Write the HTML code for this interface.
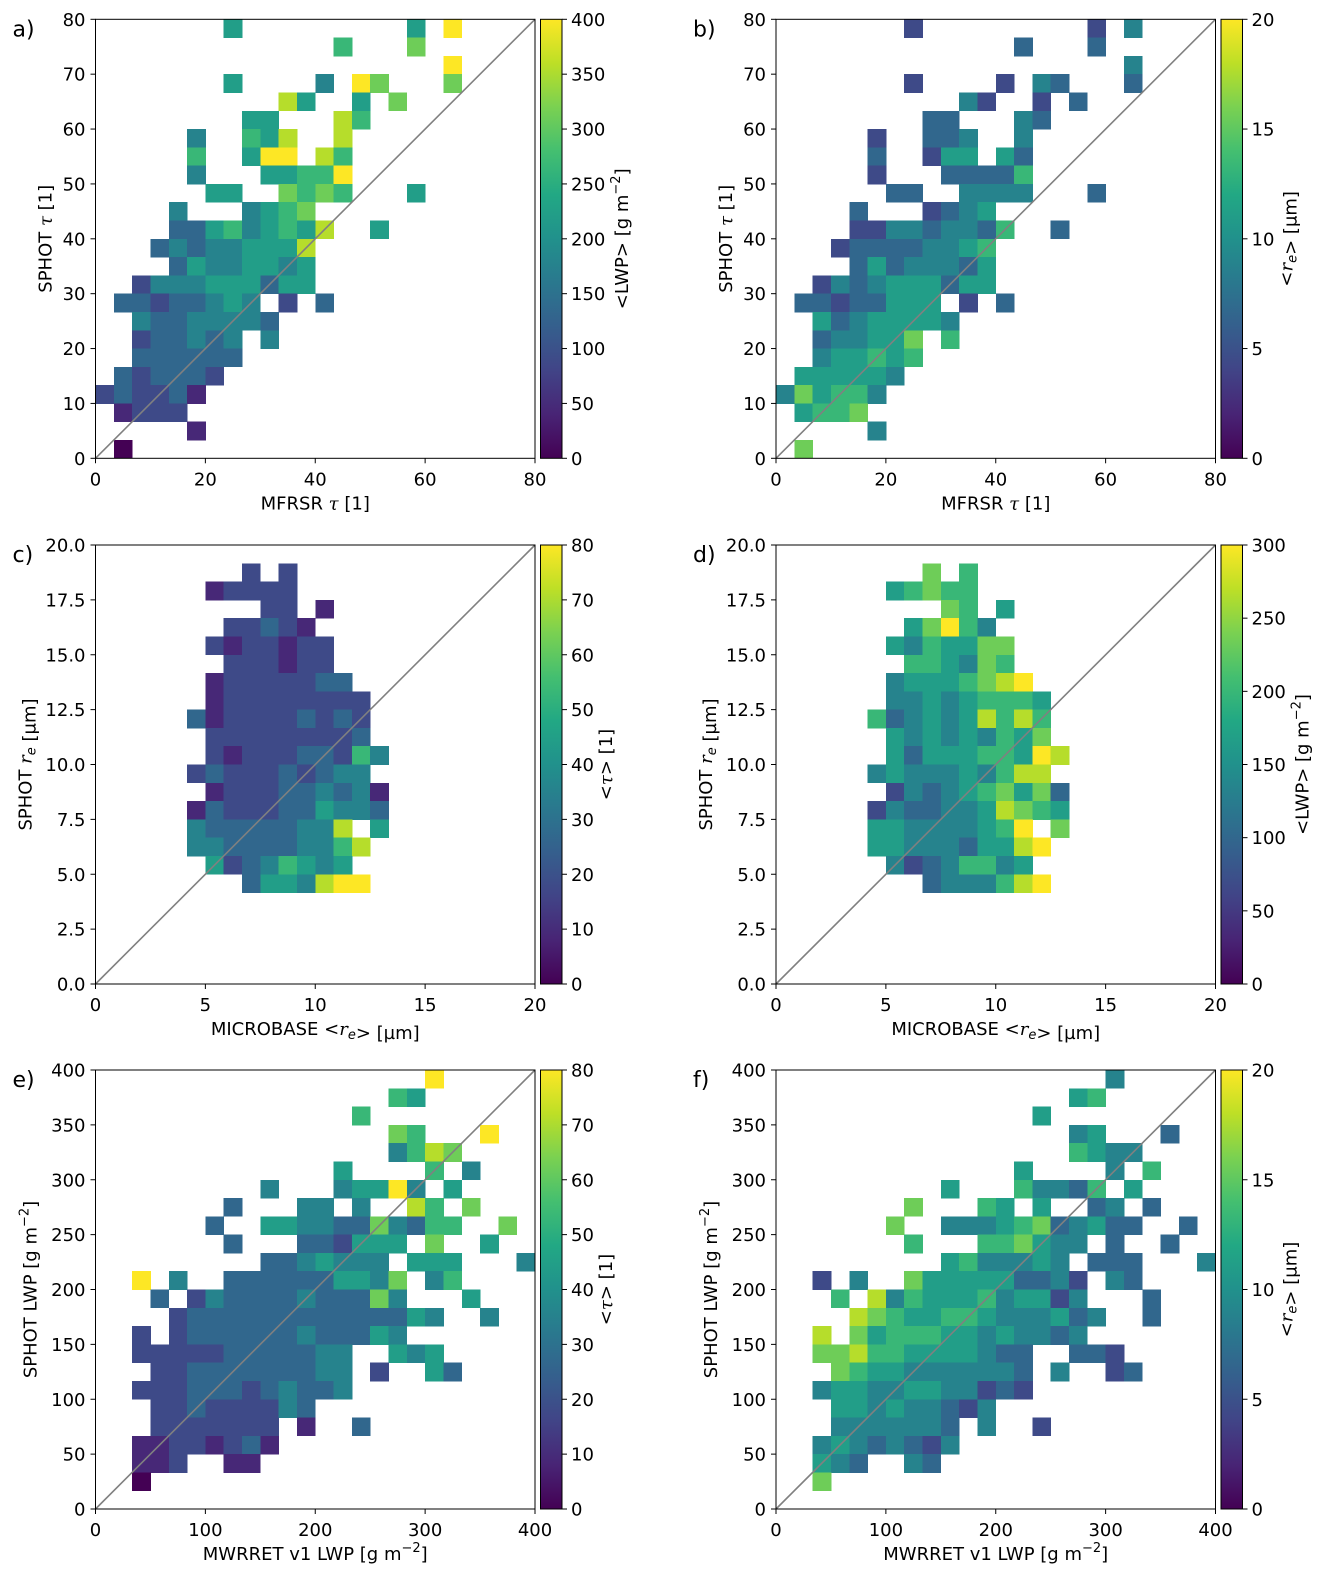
<!DOCTYPE html>
<html><head><meta charset="utf-8"><style>
html,body{margin:0;padding:0;background:#fff}
svg{display:block;font-family:"DejaVu Sans","Liberation Sans",sans-serif}
</style></head><body>
<svg id="fig" xmlns="http://www.w3.org/2000/svg" width="1330" height="1580" viewBox="0 0 1330 1580"></svg>
<script>
// ---- data: [row, startColumn, levels(0-9, '.'=empty)] ----
const aRows=[[23,7,"5.........5.9"],[22,13,"6...7"],[21,19,"9"],[20,7,"5....4.97...7"],[19,10,"85..5.7"],[18,8,"55...86"],[17,5,"4..658..8"],[16,5,"6..599.86"],[15,5,"4...55669"],[14,6,"55..7676...5"],[13,4,"4...4567"],[12,4,"335645658..5"],[11,3,"343445558"],[10,4,"35445545"],[9,2,"2444555355"],[8,1,"33233454.2.3"],[7,2,"43344443"],[6,2,"233434.4"],[5,2,"333333"],[4,1,"323332"],[3,0,"232231"],[2,1,"1222"],[1,5,"1"],[0,1,"0"]];
const bRows=[[23,7,"2.........2.4"],[22,13,"3...3"],[21,19,"4"],[20,7,"2....2.43...3"],[19,10,"42..2.3"],[18,8,"33...43"],[17,5,"2..334..4"],[16,5,"3..255.53"],[15,5,"2...33336"],[14,6,"33..4444...3"],[13,4,"3...2345"],[12,4,"224434436..3"],[11,3,"233334456"],[10,4,"35344435"],[9,2,"2434555355"],[8,1,"33233555.2.3"],[7,2,"53455554"],[6,2,"344557.6"],[5,2,"455656"],[4,1,"555554"],[3,0,"475664"],[2,1,"5667"],[1,5,"4"],[0,1,"7"]];
const cRows=[[22,8,"2.2"],[21,6,"12222"],[20,9,"22.1"],[19,7,"22321"],[18,6,"2122122"],[17,7,"222122"],[16,6,"12222233"],[15,6,"122222222"],[14,5,"3122223232"],[13,6,"222222223"],[12,6,"2122233264"],[11,5,"2322232344"],[10,6,"1222334341"],[9,5,"13222335443"],[8,5,"433333448.5"],[7,5,"4433334468"],[6,6,"52346545"],[5,8,"3554899"]];
const dRows=[[22,8,"7.6"],[21,6,"56766"],[20,9,"76.5"],[19,7,"57964"],[18,6,"5465577"],[17,7,"665476"],[16,6,"45556789"],[15,6,"445456665"],[14,5,"6345458686"],[13,6,"545454657"],[12,6,"5355566598"],[11,5,"4544454688"],[10,6,"2434567573"],[9,5,"24334458765"],[8,5,"554444569.7"],[7,5,"5544435589"],[6,6,"42346645"],[5,8,"3444689"]];
const eRows=[[23,18,"9"],[22,16,"65"],[21,14,"6"],[20,16,"76...9"],[19,16,"4687"],[18,13,"5....6.4"],[17,9,"4...45594.5"],[16,7,"3...44.4..86.7"],[15,6,"3..55443374366..7"],[14,7,"3...332555.7..5"],[13,9,"3345444.555...4"],[12,2,"9.4..3333335547.46"],[11,3,"3.243333433374...5"],[10,4,"233333333333354..4"],[9,2,"2.2333333433354"],[8,2,"222223333344..545"],[7,3,"22333333344.2..53"],[6,2,"222333234334"],[5,3,"223222243"],[4,3,"2222222.1..3"],[3,2,"11221231"],[2,2,"112..11"],[1,2,"0"]];
const fRows=[[23,18,"4"],[22,16,"56"],[21,14,"5"],[20,16,"45...3"],[19,16,"6544"],[18,13,"5....4.6"],[17,9,"5...64436.5"],[16,7,"7...65.5..34.3"],[15,6,"7..44456734533..3"],[14,7,"6...667544.3..3"],[13,9,"5644454.333...4"],[12,2,"2.4..7555553342.43"],[11,3,"6.846555645524...3"],[10,4,"87655665444534..3"],[9,2,"8.7566655454434"],[8,2,"778665555433..332"],[7,3,"76554444443.4..23"],[6,2,"455445544232"],[5,3,"554544324"],[4,3,"4444443.4..2"],[3,2,"45434324"],[2,2,"543..43"],[1,2,"7"]];
// ---- ticks ----
const tauTicksX=[0,20,40,60,80];
const tauTicksY=[0,10,20,30,40,50,60,70,80];
const reTicksX=[0,5,10,15,20];
const reTicksY=[0,2.5,5,7.5,10,12.5,15,17.5,20];
const lwpTicksX=[0,100,200,300,400];
const lwpTicksY=[0,50,100,150,200,250,300,350,400];
const cbTicksA=[0,50,100,150,200,250,300,350,400];
const cbTicksB=[0,5,10,15,20];
const cbTicksC=[0,10,20,30,40,50,60,70,80];
const cbTicksD=[0,50,100,150,200,250,300];
const cbTicksE=[0,10,20,30,40,50,60,70,80];
const cbTicksF=[0,5,10,15,20];

const VIR=["#440154","#482475","#414487","#355f8d","#2a788e","#21918c","#22a884","#44bf70","#7ad151","#bddf26","#fde725"];
function hex(h){return [1,3,5].map(i=>parseInt(h.substr(i,2),16));}
function vcol(t){t=Math.max(0,Math.min(1,t));const p=t*10,i=Math.min(9,Math.floor(p)),f=p-i;const a=hex(VIR[i]),b=hex(VIR[i+1]);return "rgb("+a.map((v,k)=>Math.round(v+(b[k]-v)*f)).join(",")+")";}

const NS="http://www.w3.org/2000/svg";
const svg=document.getElementById('fig');
function el(tag,attrs,parent){const e=document.createElementNS(NS,tag);for(const k in attrs)e.setAttribute(k,attrs[k]);(parent||svg).appendChild(e);return e;}

const defs=el('defs',{});
const grad=el('linearGradient',{id:'vir',x1:'0',y1:'1',x2:'0',y2:'0'},defs);
VIR.forEach((c,i)=>el('stop',{offset:(i/10),'stop-color':c},grad));

const W=439.5,H=439,FS=18;
const TAU='<tspan font-style="italic" font-family="DejaVu Serif, Liberation Serif, serif">τ</tspan>';
const RE='<tspan font-style="italic" font-family="DejaVu Serif, Liberation Serif, serif">r</tspan><tspan font-style="italic" font-size="13" dy="4">e</tspan><tspan dy="-4"></tspan>';
const M2='g m<tspan font-size="13" dy="-8">−2</tspan><tspan dy="8">]</tspan>';
const panels=[
 {id:'a',x:95.5,y:19.3,rows:aRows,max:80,cmax:400,xt:tauTicksX,yt:tauTicksY,ct:cbTicksA,yfmt:0,xl:'MFRSR '+TAU+' [1]',yl:'SPHOT '+TAU+' [1]',cl:'&lt;LWP&gt; ['+M2,cld:3,ylOff:44},
 {id:'b',x:776,y:19.3,rows:bRows,max:80,cmax:20,xt:tauTicksX,yt:tauTicksY,ct:cbTicksB,yfmt:0,xl:'MFRSR '+TAU+' [1]',yl:'SPHOT '+TAU+' [1]',cl:'&lt;'+RE+'&gt; [µm]',cld:2,ylOff:44},
 {id:'c',x:95.5,y:545,rows:cRows,max:20,cmax:80,xt:reTicksX,yt:reTicksY,ct:cbTicksC,yfmt:1,xl:'MICROBASE &lt;'+RE+'&gt; [µm]',yl:'SPHOT '+RE+' [µm]',cl:'&lt;'+TAU+'&gt; [1]',cld:2,ylOff:64},
 {id:'d',x:776,y:545,rows:dRows,max:20,cmax:300,xt:reTicksX,yt:reTicksY,ct:cbTicksD,yfmt:1,xl:'MICROBASE &lt;'+RE+'&gt; [µm]',yl:'SPHOT '+RE+' [µm]',cl:'&lt;LWP&gt; ['+M2,cld:3,ylOff:64},
 {id:'e',x:95.5,y:1070,rows:eRows,max:400,cmax:80,xt:lwpTicksX,yt:lwpTicksY,ct:cbTicksE,yfmt:0,xl:'MWRRET v1 LWP ['+M2,yl:'SPHOT LWP ['+M2,cl:'&lt;'+TAU+'&gt; [1]',cld:2,ylOff:59},
 {id:'f',x:776,y:1070,rows:fRows,max:400,cmax:20,xt:lwpTicksX,yt:lwpTicksY,ct:cbTicksF,yfmt:0,xl:'MWRRET v1 LWP ['+M2,yl:'SPHOT LWP ['+M2,cl:'&lt;'+RE+'&gt; [µm]',cld:2,ylOff:59}
];
const NB=24;
panels.forEach(p=>{
  const g=el('g',{});
  
  
  const xs=v=>p.x+v/p.max*W, ys=v=>p.y+H-v/p.max*H, bw=p.max/NB;
  const lt=el('text',{x:p.x-83,y:p.y+17,'font-size':22,fill:'#000'},g);
  lt.textContent=p.id+')';
  
  
  const cg=el('g',{'shape-rendering':'crispEdges'},g);
  
  
  p.rows.forEach(([r,s,str])=>{
    for(let i=0;i<str.length;i++){const ch=str[i];if(ch==='.')continue;
      const c=s+i,val=(+ch)/9*p.cmax;
      const x0=xs(c*bw),x1=xs((c+1)*bw),y1=ys(r*bw),y0=ys((r+1)*bw);
      const rc=el('rect',{x:x0,y:y0,width:x1-x0+0.4,height:y1-y0+0.4,fill:vcol(val/p.cmax)},cg);
      
      
    }
  });
  const dl=el('line',{x1:xs(0),y1:ys(0),x2:xs(p.max),y2:ys(p.max),stroke:'#808080','stroke-width':1.6},g);
  
  
  const fr=el('rect',{x:p.x,y:p.y,width:W,height:H,fill:'none',stroke:'#000','stroke-width':1},g);
  
  
  p.xt.forEach(v=>{
    el('line',{x1:xs(v),y1:p.y+H,x2:xs(v),y2:p.y+H+5,stroke:'#000'},g);
    const t=el('text',{x:xs(v),y:p.y+H+27,'font-size':FS,'text-anchor':'middle'},g);
    t.textContent=v;
    
    
  });
  p.yt.forEach(v=>{
    el('line',{x1:p.x,y1:ys(v),x2:p.x-5,y2:ys(v),stroke:'#000'},g);
    const t=el('text',{x:p.x-10,y:ys(v)+6.5,'font-size':FS,'text-anchor':'end'},g);
    t.textContent=p.yfmt?v.toFixed(1):v;
    
    
  });
  const xl=el('text',{x:p.x+W/2,y:p.y+H+51,'font-size':FS,'text-anchor':'middle'},g);
  xl.innerHTML=p.xl;
  
  
  const yx=p.x-p.ylOff,yy=p.y+H/2;
  const yl=el('text',{x:yx,y:yy,'font-size':FS,'text-anchor':'middle',transform:'rotate(-90 '+yx+' '+yy+')'},g);
  yl.innerHTML=p.yl;
  
  
  const cx=p.x+W+5.5,cw=21.5;
  const cb=el('rect',{x:cx,y:p.y,width:cw,height:H,fill:'url(#vir)',stroke:'#000','stroke-width':1},g);
  
  
  const cs=v=>p.y+H-v/p.cmax*H;
  p.ct.forEach(v=>{
    el('line',{x1:cx+cw,y1:cs(v),x2:cx+cw+5,y2:cs(v),stroke:'#000'},g);
    const t=el('text',{x:cx+cw+9,y:cs(v)+6.5,'font-size':FS},g);
    t.textContent=v;
    
    
  });
  const lx=cx+cw+(p.cld===3?66:50),ly=p.y+H/2;
  const cl=el('text',{x:lx,y:ly,'font-size':FS,'text-anchor':'middle',transform:'rotate(-90 '+lx+' '+ly+')'},g);
  cl.innerHTML=p.cl;
  
  
});
</script>
</body></html>
